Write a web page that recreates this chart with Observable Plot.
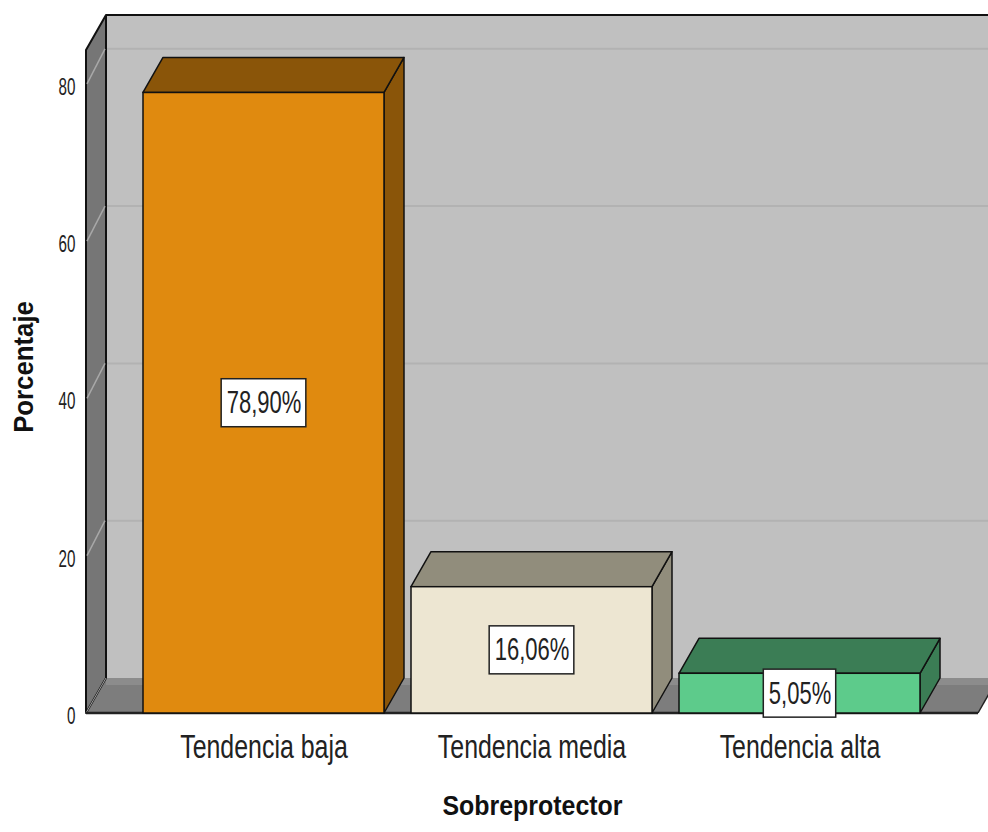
<!DOCTYPE html>
<html>
<head>
<meta charset="utf-8">
<script src="https://cdn.jsdelivr.net/npm/d3@7"></script>
<script src="https://cdn.jsdelivr.net/npm/@observablehq/plot@0.6"></script>
<style>
  html, body { margin: 0; padding: 0; background: #ffffff; }
  #chart { width: 988px; height: 832px; overflow: hidden; }
</style>
</head>
<body>
<div id="chart"></div>
<script>
// ---- data ----
const categories = ["Tendencia baja", "Tendencia media", "Tendencia alta"];
const values = [78.90, 16.06, 5.05];
const valueLabels = ["78,90%", "16,06%", "5,05%"];
const yTicks = [0, 20, 40, 60, 80];
const xTitle = "Sobreprotector";
const yTitle = "Porcentaje";

// ---- styles ----
const frontColors = ["#e08a0f", "#ede6d2", "#5dcb8b"];
const sideColors = ["#8a5509", "#918d7c", "#3b7d55"];
const FONT = "'Liberation Sans', Arial, sans-serif";
const DX = 20, DY = -35;
const VALUE_FS = 31;
// horizontal squeeze (reference uses a tall, narrow face)
function squeezeFor(s) {
  if (valueLabels.includes(s)) return 0.71;
  if (categories.includes(s)) return 0.755;
  if (s === xTitle) return 0.89;
  if (s === yTitle) return 0.92;
  return 0.66; // tick numbers
}

const rows = categories.map((c, i) => ({cat: c, value: values[i], label: valueLabels[i]}));

function bandwidthOf(x) {
  if (typeof x.bandwidth === "function") return x.bandwidth();
  if (typeof x.bandwidth === "number") return x.bandwidth;
  return (x(categories[1]) - x(categories[0])) * 0.9;
}

// 3D scenery: walls, floor, grid, bar top/side faces
function scene(index, scales, vals, dims) {
  const {x, y} = scales;
  const L = dims.marginLeft, R = dims.width - dims.marginRight;
  const T = dims.marginTop, B = dims.height - dims.marginBottom;
  const g = d3.create("svg:g");
  const poly = (pts, fill, stroke, sw) => g.append("polygon")
    .attr("points", pts.map(p => p.join(",")).join(" "))
    .attr("fill", fill).attr("stroke", stroke || "none")
    .attr("stroke-width", sw || 1).attr("stroke-linejoin", "round");
  const line = (x1, y1, x2, y2, stroke, sw) => g.append("line")
    .attr("x1", x1).attr("y1", y1).attr("x2", x2).attr("y2", y2)
    .attr("stroke", stroke).attr("stroke-width", sw);
  // back wall
  poly([[L + DX, T + DY], [dims.width + 60, T + DY], [dims.width + 60, B + DY], [L + DX, B + DY]], "#c0c0c0");
  line(L + DX, T + DY, dims.width + 60, T + DY, "#111", 2);
  // back wall grid
  for (const t of yTicks.slice(1)) {
    const yy = y(t) + DY;
    line(L + DX, yy, dims.width + 60, yy, "#b2b2b2", 2);
  }
  // floor
  poly([[L, B], [L + DX, B + DY], [R + DX, B + DY], [R, B]], "#7d7d7d");
  poly([[L + DX, B + DY], [R + DX, B + DY], [R + DX - 4, B + DY + 7], [L + DX, B + DY + 7]], "#8c8c8c");
  line(R, B, R + DX, B + DY, "#222", 1.5);
  // left wall
  poly([[L, T], [L + DX, T + DY], [L + DX, B + DY], [L, B]], "#767676", "#111", 2);
  for (const t of yTicks.slice(1)) {
    line(L + 1, y(t), L + DX - 1, y(t) + DY, "#a8a8a8", 1.5);
  }
  line(L, B, L + DX, B + DY, "#a0a0a0", 1);
  // floor front edge
  line(L, B, R, B, "#222", 2.5);
  // bar side and top faces
  const bw = bandwidthOf(x);
  categories.forEach((c, i) => {
    const x0 = x(c), x1 = x0 + bw, yv = y(values[i]);
    poly([[x1, yv], [x1 + DX, yv + DY], [x1 + DX, B + DY], [x1, B]], sideColors[i], "#111", 1.5);
    poly([[x0, yv], [x0 + DX, yv + DY], [x1 + DX, yv + DY], [x1, yv]], sideColors[i], "#111", 1.5);
  });
  return g.node();
}

// white label boxes behind the value texts
const measureCtx = document.createElement("canvas").getContext("2d");
function labelBoxes(index, scales, vals, dims) {
  const {x, y} = scales;
  const bw = bandwidthOf(x);
  measureCtx.font = `${VALUE_FS}px ${FONT}`;
  const g = d3.create("svg:g");
  rows.forEach(r => {
    const w = measureCtx.measureText(r.label).width * squeezeFor(r.label) + 10;
    const cx = x(r.cat) + bw / 2, cy = y(r.value / 2);
    g.append("rect").attr("x", cx - w / 2).attr("y", cy - 24).attr("width", w).attr("height", 48)
      .attr("fill", "#ffffff").attr("stroke", "#222").attr("stroke-width", 1.5);
  });
  return g.node();
}

const chart = Plot.plot({
  width: 988,
  height: 832,
  marginLeft: 86,
  marginRight: 10,
  marginTop: 50,
  marginBottom: 119,
  style: {fontFamily: FONT, background: "#ffffff", color: "#222"},
  x: {domain: categories, paddingInner: 0.1, paddingOuter: 0.2127, align: 0.5, label: null},
  y: {domain: [0, 84.3], label: null},
  color: {domain: categories, range: frontColors},
  marks: [
    scene,
    Plot.barY(rows, {x: "cat", y: "value", fill: "cat", stroke: "#111", strokeWidth: 1.5}),
    labelBoxes,
    Plot.text(rows, {x: "cat", y: d => d.value / 2, text: "label", fontSize: VALUE_FS, fill: "#222"}),
    Plot.axisY({ticks: yTicks, tickSize: 0, tickPadding: 11, fontSize: 23, dy: 3, label: null}),
    Plot.axisX({tickSize: 0, tickPadding: 21, fontSize: 33, label: null}),
    Plot.text([xTitle], {frameAnchor: "bottom", dy: 101, fontSize: 28, fontWeight: "bold", fill: "#111"}),
    Plot.text([yTitle], {frameAnchor: "left", textAnchor: "middle", dx: -62, dy: -15, rotate: -90, fontSize: 28, fontWeight: "bold", fill: "#111"})
  ]
});
document.getElementById("chart").appendChild(chart);

// narrow the glyphs horizontally to match the reference's condensed face
chart.querySelectorAll("text").forEach(t => {
  const s = squeezeFor(t.textContent.trim());
  const w = t.getComputedTextLength();
  if (w > 0) {
    t.setAttribute("textLength", (w * s).toFixed(2));
    t.setAttribute("lengthAdjust", "spacingAndGlyphs");
  }
});
</script>
</body>
</html>
